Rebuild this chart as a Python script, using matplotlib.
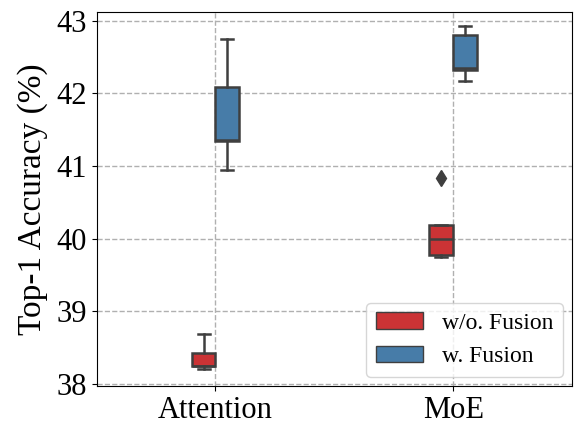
import matplotlib
matplotlib.use("Agg")
import matplotlib.pyplot as plt
import seaborn as sns
from matplotlib.patches import Patch

categories = ["Attention", "MoE"]
series = ["w/o. Fusion", "w. Fusion"]
# stats per series per category: whislo, q1, med, q3, whishi
wo_whislo = [38.20, 39.75]
wo_q1 = [38.24, 39.77]
wo_med = [38.24, 39.99]
wo_q3 = [38.43, 40.19]
wo_whishi = [38.68, 40.19]
wo_fliers = [[], [40.83]]

w_whislo = [40.94, 42.17]
w_q1 = [41.34, 42.32]
w_med = [41.36, 42.35]
w_q3 = [42.09, 42.81]
w_whishi = [42.75, 42.93]
w_fliers = [[], []]

plt.rcParams['font.family'] = ['Liberation Serif', 'DejaVu Serif']

pal = sns.color_palette("Set1", 2, desat=0.75)
edge = "#3f3f3f"

fig, ax = plt.subplots(figsize=(5.75, 4.28), dpi=100)
box_w = 0.1
data_sets = [
    (wo_whislo, wo_q1, wo_med, wo_q3, wo_whishi, wo_fliers, -0.05, pal[0]),
    (w_whislo, w_q1, w_med, w_q3, w_whishi, w_fliers, 0.05, pal[1]),
]
for whislo, q1, med, q3, whishi, fl, off, col in data_sets:
    stats = []
    for i in range(len(categories)):
        stats.append(dict(whislo=whislo[i], q1=q1[i], med=med[i], q3=q3[i],
                          whishi=whishi[i], fliers=fl[i]))
    ax.bxp(stats, positions=[i + off for i in range(len(categories))],
           widths=box_w, patch_artist=True, showfliers=True,
           boxprops=dict(facecolor=col, edgecolor=edge, linewidth=1.8),
           medianprops=dict(color=edge, linewidth=1.8),
           whiskerprops=dict(color=edge, linewidth=1.8),
           capprops=dict(color=edge, linewidth=1.8),
           flierprops=dict(marker='d', markerfacecolor=edge, markeredgecolor=edge, markersize=8),
           zorder=3)

ax.set_xlim(-0.5, 1.5)
ax.set_ylim(37.97, 43.12)
ax.set_xticks(range(len(categories)))
ax.set_xticklabels(categories)
ax.set_yticks([38, 39, 40, 41, 42, 43])
ax.tick_params(labelsize=22)
ax.set_ylabel("Top-1 Accuracy (%)", fontsize=24, labelpad=6)
ax.grid(True, linestyle='--', color='#b0b0b0', linewidth=1.0, zorder=0)
ax.set_axisbelow(True)
handles = [Patch(facecolor=pal[0], edgecolor=edge, label=series[0]),
           Patch(facecolor=pal[1], edgecolor=edge, label=series[1])]
ax.legend(handles=handles, loc='lower right', fontsize=17, handlelength=2.0,
          handletextpad=0.8, borderaxespad=0.4)
fig.subplots_adjust(left=0.168, right=0.995, top=0.972, bottom=0.098)
fig.savefig("out.png", dpi=100)
